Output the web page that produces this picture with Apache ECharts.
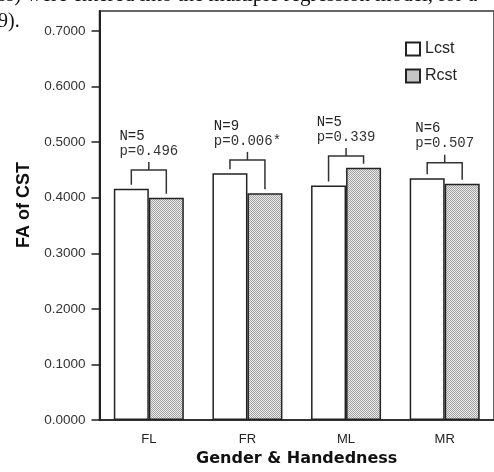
<!DOCTYPE html>
<html>
<head>
<meta charset="utf-8">
<script src="https://cdn.jsdelivr.net/npm/echarts@6/dist/echarts.min.js"></script>
<style>
  html, body {margin: 0; padding: 0; background: #fff;}
  #main {width: 494px; height: 472px;}
</style>
</head>
<body>
<div id="main"></div>
<script>
// data
const categories = ['FL', 'FR', 'ML', 'MR'];
const lcst = [0.416, 0.444, 0.422, 0.435];
const rcst = [0.400, 0.408, 0.454, 0.425];
const bracketY = [0.450, 0.468, 0.475, 0.463];
const nLabels = ['N=5', 'N=9', 'N=5', 'N=6'];
const pLabels = ['p=0.496', 'p=0.006*', 'p=0.339', 'p=0.507'];
const yTicks = [0, 0.1, 0.2, 0.3, 0.4, 0.5, 0.6, 0.7];

const BAR_W = 35;
const ANNO_FONT = '14px "Liberation Mono", monospace';

// stippled fill for Rcst
function stipple() {
  const c = document.createElement('canvas');
  c.width = 2; c.height = 2;
  const ctx = c.getContext('2d');
  ctx.fillStyle = '#ececec';
  ctx.fillRect(0, 0, 2, 2);
  ctx.fillStyle = '#a0a0a0';
  ctx.fillRect(0, 0, 1, 1);
  ctx.fillRect(1, 1, 1, 1);
  return c;
}

const measure = document.createElement('canvas').getContext('2d');
measure.font = ANNO_FONT;

const myChart = echarts.init(document.getElementById('main'));

const option = {
  animation: false,
  backgroundColor: '#fff',
  grid: {
    left: 99.5, top: 11, right: -9.5, bottom: 47.5,
    show: true, borderColor: '#333', borderWidth: 1.5
  },
  legend: {
    orient: 'vertical',
    left: 405, top: 41, padding: 0,
    icon: 'rect',
    itemWidth: 14, itemHeight: 13, itemGap: 11,
    textStyle: {color: '#222', fontSize: 16, fontFamily: 'Liberation Sans'},
    data: ['Lcst', 'Rcst']
  },
  xAxis: {
    type: 'category',
    data: categories,
    name: 'Gender & Handedness',
    nameLocation: 'middle',
    nameGap: 31,
    nameTextStyle: {color: '#111', fontSize: 16, fontWeight: 'bold', fontFamily: 'DejaVu Sans'},
    axisLine: {lineStyle: {color: '#222', width: 1.5}},
    axisTick: {alignWithLabel: true, length: 8, lineStyle: {color: '#222', width: 1.5}},
    axisLabel: {color: '#222', fontSize: 13, margin: 13, fontFamily: 'Liberation Sans'},
    splitLine: {show: false}
  },
  yAxis: {
    type: 'value',
    min: 0, max: 0.736, interval: 0.1,
    name: 'FA of CST',
    nameLocation: 'middle',
    nameGap: 64,
    nameTextStyle: {color: '#111', fontSize: 18, fontWeight: 'bold', fontFamily: 'Liberation Sans', padding: [0, 0, 0, 21]},
    axisLine: {show: true, lineStyle: {color: '#222', width: 2}},
    axisTick: {show: true, length: 8, customValues: yTicks, lineStyle: {color: '#222', width: 1.5}},
    axisLabel: {
      color: '#333', fontSize: 13.5, margin: 14, fontFamily: 'Liberation Sans',
      customValues: yTicks,
      formatter: v => v.toFixed(4)
    },
    splitLine: {show: false}
  },
  graphic: [
    {type: 'text', left: -2, top: -15, style: {text: 'ss) were entered into the multiple regression model, for a', font: '21px "Liberation Serif"', fill: '#111'}},
    {type: 'text', left: -2, top: 12, style: {text: '9).', font: '20px "Liberation Serif"', fill: '#111'}}
  ],
  series: [
    {
      name: 'Lcst', type: 'bar', barWidth: BAR_W, barGap: '0%',
      itemStyle: {color: '#fff', borderColor: '#222', borderWidth: 1.5},
      data: lcst
    },
    {
      name: 'Rcst', type: 'bar', barWidth: BAR_W, barGap: '0%',
      itemStyle: {color: {image: stipple(), repeat: 'repeat'}, borderColor: '#222', borderWidth: 1.5},
      data: rcst
    },
    {
      type: 'custom',
      clip: false,
      z: 5,
      encode: {x: 0, y: 3},
      data: categories.map((c, i) => [i, lcst[i], rcst[i], bracketY[i]]),
      renderItem(params, api) {
        const i = params.dataIndex;
        const top = api.coord([i, bracketY[i]]);
        const yl = api.coord([i, lcst[i]])[1];
        const yr = api.coord([i, rcst[i]])[1];
        const cx = top[0];
        const xl = cx - BAR_W / 2, xr = cx + BAR_W / 2;
        const yb = top[1];
        const stemTop = yb - 8;
        const pw = measure.measureText(pLabels[i]).width;
        const tx = cx - pw / 2;
        const line = {stroke: '#333', lineWidth: 1.5, fill: null};
        return {
          type: 'group',
          children: [
            {type: 'polyline', shape: {points: [[xl, yl - 4], [xl, yb], [xr, yb], [xr, yr - 4]]}, style: line},
            {type: 'line', shape: {x1: cx, y1: yb, x2: cx, y2: stemTop}, style: line},
            {type: 'text', style: {text: pLabels[i], x: tx, y: stemTop - 11, font: ANNO_FONT, fill: '#333', align: 'left', verticalAlign: 'middle'}},
            {type: 'text', style: {text: nLabels[i], x: tx, y: stemTop - 26, font: ANNO_FONT, fill: '#222', align: 'left', verticalAlign: 'middle'}}
          ]
        };
      }
    }
  ]
};

myChart.setOption(option);
</script>
</body>
</html>
